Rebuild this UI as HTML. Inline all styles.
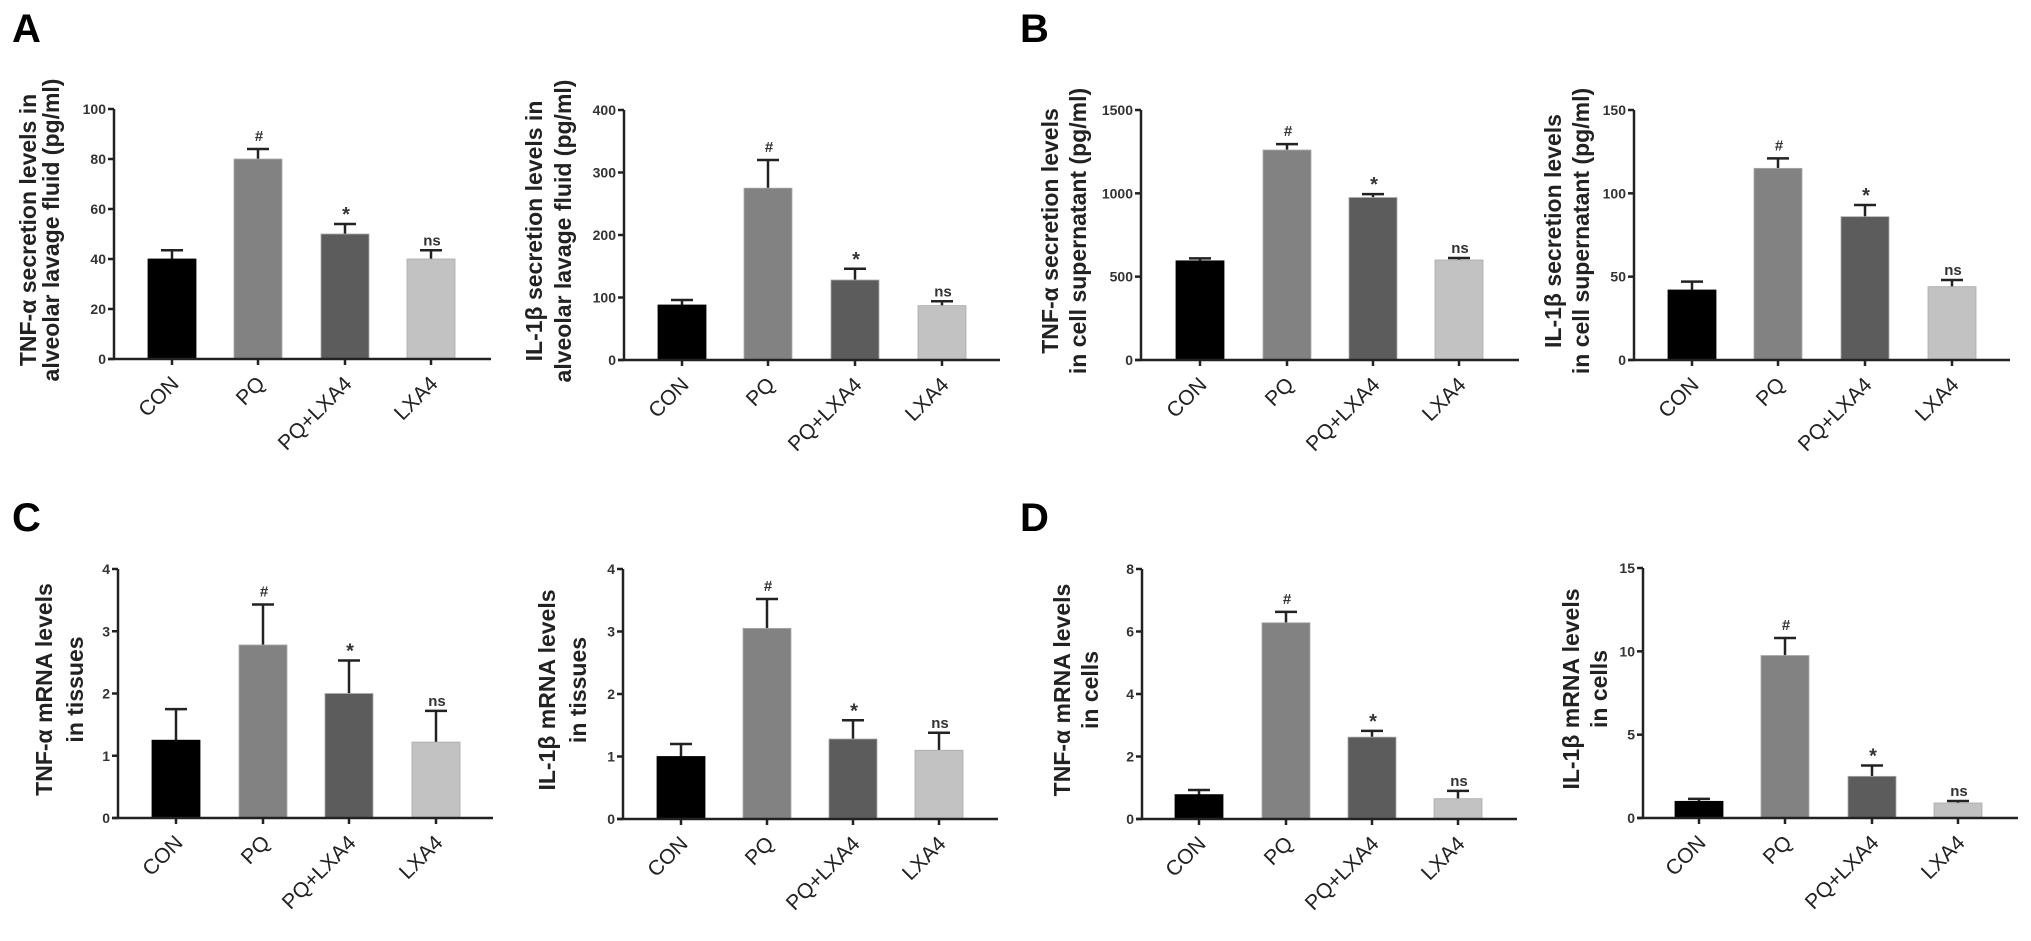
<!DOCTYPE html>
<html><head><meta charset="utf-8"><style>
html,body{margin:0;padding:0;background:#fff}
svg{display:block;font-family:"Liberation Sans",Arial,sans-serif}
</style></head><body>
<svg id="fig" width="2031" height="941" viewBox="0 0 2031 941">
<text x="12" y="42" font-size="40" font-weight="bold">A</text>
<text x="1020" y="42" font-size="40" font-weight="bold">B</text>
<text x="12" y="531" font-size="40" font-weight="bold">C</text>
<text x="1020" y="531" font-size="40" font-weight="bold">D</text>
</svg>
<script>
const categories = ["CON","PQ","PQ+LXA4","LXA4"];
const sigLabels = ["","#","*","ns"];
const a1Values = [40,80,50,40];
const a1Errors = [3.5,4,4,3.5];
const a1Ticks = [0,20,40,60,80,100];
const a2Values = [88,275,128,87];
const a2Errors = [8,45,18,7];
const a2Ticks = [0,100,200,300,400];
const b1Values = [595,1260,975,600];
const b1Errors = [15,35,20,12];
const b1Ticks = [0,500,1000,1500];
const b2Values = [42,115,86,44];
const b2Errors = [5,6,7,4];
const b2Ticks = [0,50,100,150];
const c1Values = [1.25,2.78,2.0,1.22];
const c1Errors = [0.5,0.65,0.53,0.5];
const c1Ticks = [0,1,2,3,4];
const c2Values = [1.0,3.05,1.28,1.1];
const c2Errors = [0.2,0.47,0.3,0.28];
const c2Ticks = [0,1,2,3,4];
const d1Values = [0.78,6.28,2.62,0.65];
const d1Errors = [0.15,0.35,0.2,0.25];
const d1Ticks = [0,2,4,6,8];
const d2Values = [1.0,9.75,2.5,0.9];
const d2Errors = [0.15,1.05,0.65,0.12];
const d2Ticks = [0,5,10,15];

const colors = ["#000000","#828282","#5c5c5c","#c2c2c2"];
const NS = "http://www.w3.org/2000/svg";
const svg = document.getElementById("fig");
function mk(tag, attrs, parent){
  const e = document.createElementNS(NS, tag);
  for (const k in attrs) e.setAttribute(k, attrs[k]);
  (parent||svg).appendChild(e);
  return e;
}
const panels = [
  {id:"a1",ax:114,top:109,zero:359,end:491,cx:[172,258,345,431],v:a1Values,e:a1Errors,t:a1Ticks,title:["TNF-α secretion levels in","alveolar lavage fluid (pg/ml)"],tx:[28,51]},
  {id:"a2",ax:624,top:110,zero:360,end:1000,cx:[682,768,855,942],v:a2Values,e:a2Errors,t:a2Ticks,title:["IL-1β secretion levels in","alveolar lavage fluid (pg/ml)"],tx:[534,563]},
  {id:"b1",ax:1141,top:110,zero:360,end:1519,cx:[1200,1287,1373,1459],v:b1Values,e:b1Errors,t:b1Ticks,title:["TNF-α secretion levels","in cell supernatant (pg/ml)"],tx:[1050,1078]},
  {id:"b2",ax:1634,top:110,zero:360,end:2010,cx:[1692,1778,1865,1952],v:b2Values,e:b2Errors,t:b2Ticks,title:["IL-1β secretion levels","in cell supernatant (pg/ml)"],tx:[1553,1581]},
  {id:"c1",ax:118,top:569,zero:818,end:493,cx:[176,263,349,436],v:c1Values,e:c1Errors,t:c1Ticks,title:["TNF-α mRNA levels","in tissues"],tx:[44,75]},
  {id:"c2",ax:623,top:569,zero:819,end:998,cx:[681,767,853,939],v:c2Values,e:c2Errors,t:c2Ticks,title:["IL-1β mRNA levels","in tissues"],tx:[547,578]},
  {id:"d1",ax:1142,top:569,zero:819,end:1517,cx:[1199,1286,1372,1458],v:d1Values,e:d1Errors,t:d1Ticks,title:["TNF-α mRNA levels","in cells"],tx:[1062,1090]},
  {id:"d2",ax:1643,top:568,zero:818,end:2018,cx:[1699,1785,1872,1958],v:d2Values,e:d2Errors,t:d2Ticks,title:["IL-1β mRNA levels","in cells"],tx:[1571,1599]}
];
panels.forEach(p=>{
  const g = mk("g",{});
  
  
  const max = p.t[p.t.length-1];
  const y = v => p.zero - (v/max)*(p.zero-p.top);
  const cy = (p.top+p.zero)/2 - 4;
  p.title.forEach((line,i)=>{
    const t = mk("text",{x:p.tx[i],y:cy,"font-size":23,"font-weight":"bold",fill:"#222","text-anchor":"middle","dominant-baseline":"central",transform:`rotate(-90 ${p.tx[i]} ${cy})`},g);
    t.textContent = line;
    
    
  });
  p.v.forEach((v,i)=>{
    const x = p.cx[i], w = 48;
    const top = y(v), et = y(v + p.e[i]);
    const eb = mk("line",{x1:x,x2:x,y1:top,y2:et,stroke:"#222","stroke-width":2.5},g);
    
    
    const cap = mk("line",{x1:x-11,x2:x+11,y1:et,y2:et,stroke:"#222","stroke-width":2.5},g);
    
    
    const r = mk("rect",{x:x-w/2,y:top,width:w,height:p.zero-top,fill:colors[i],stroke:i==0?"#000":"#aaa","stroke-width":0.8},g);
    
    
    if (sigLabels[i]) {
      const s = mk("text",{x:x+1,y:et-(sigLabels[i]=="ns"?5:8),"font-size":sigLabels[i]=="*"?20:15,"font-weight":"bold",fill:"#333","text-anchor":"middle"},g);
      if (sigLabels[i]=="*") s.setAttribute("y", et-3);
      s.textContent = sigLabels[i];
      
      
    }
    const tk = mk("line",{x1:x,x2:x,y1:p.zero,y2:p.zero+6,stroke:"#222","stroke-width":2.5},g);
    
    
    const lx = x+8, ly = p.zero+26;
    const cl = mk("text",{x:lx,y:ly,"font-size":21,fill:"#222","text-anchor":"end",transform:`rotate(-45 ${lx} ${ly})`},g);
    cl.textContent = categories[i];
    
    
  });
  const ya = mk("line",{x1:p.ax,x2:p.ax,y1:p.top,y2:p.zero,stroke:"#222","stroke-width":2.5},g);
  
  
  const xa = mk("line",{x1:p.ax-6,x2:p.end,y1:p.zero,y2:p.zero,stroke:"#222","stroke-width":2.5},g);
  
  
  p.t.forEach(tv=>{
    const ty = y(tv);
    const tl = mk("line",{x1:p.ax-6,x2:p.ax,y1:ty,y2:ty,stroke:"#222","stroke-width":2.5},g);
    
    
    const tt = mk("text",{x:p.ax-8,y:ty+5,"font-size":14,"font-weight":"bold",fill:"#333","text-anchor":"end"},g);
    tt.textContent = tv;
    
    
  });
});
</script>
</body></html>
